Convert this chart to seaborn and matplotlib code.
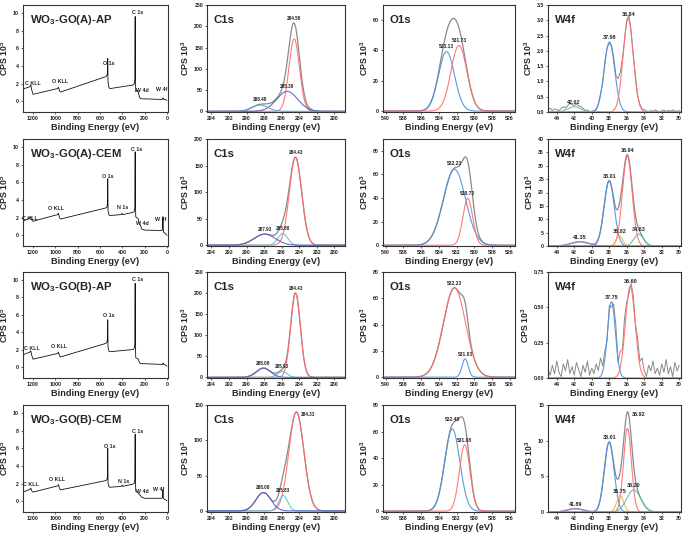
import numpy as np
import matplotlib
matplotlib.use("Agg")
import matplotlib.pyplot as plt
import seaborn as sns

# ---- survey spectra: (binding energy eV, CPS 1e5)
survey_titles = ["WO$_\\mathbf{3}$-GO(A)-AP", "WO$_\\mathbf{3}$-GO(A)-CEM",
                 "WO$_\\mathbf{3}$-GO(B)-AP", "WO$_\\mathbf{3}$-GO(B)-CEM"]

survey_a_ap = [(1290, 1.40), (1230, 1.65), (1220, 1.85), (1212, 1.30), (1200, 0.80),
               (980, 1.45), (972, 1.60), (964, 1.25), (955, 1.05), (548, 2.80),
               (538, 2.95), (533, 3.30), (531, 4.85), (528, 2.20), (520, 1.55),
               (510, 1.45), (305, 1.85), (293, 2.00), (288, 2.60), (285, 9.60),
               (283, 3.00), (280, 1.10), (270, 1.25), (258, 1.10), (246, 0.45),
               (235, 0.30), (45, 0.22), (38, 0.28), (35, 0.40), (31, 0.25),
               (10, 0.18), (0, 0.10)]
survey_a_cem = [(1290, 1.60), (1230, 1.95), (1220, 2.10), (1212, 1.75), (1200, 1.60),
                (980, 2.35), (972, 2.50), (964, 2.05), (955, 1.85), (548, 3.10),
                (538, 3.20), (533, 3.60), (531, 6.40), (528, 2.80), (520, 2.30),
                (510, 2.25), (410, 2.35), (402, 2.50), (396, 2.35), (305, 2.60),
                (293, 2.70), (288, 3.20), (285, 9.45), (283, 4.00), (280, 2.10),
                (268, 2.00), (258, 1.90), (248, 1.30), (240, 1.20), (225, 0.70),
                (200, 0.60), (45, 0.55), (40, 0.90), (36, 2.10), (33, 0.60),
                (30, 0.35), (10, 0.15), (0, 0.00)]
survey_b_ap = [(1290, 1.45), (1230, 1.75), (1220, 1.90), (1212, 1.40), (1200, 0.95),
               (980, 1.60), (972, 1.75), (964, 1.40), (955, 1.20), (548, 2.75),
               (538, 2.90), (533, 3.30), (531, 5.45), (528, 2.30), (520, 1.85),
               (510, 1.80), (305, 2.05), (293, 2.20), (288, 2.70), (285, 9.60),
               (283, 3.00), (280, 1.10), (270, 1.05), (258, 0.95), (246, 0.55),
               (235, 0.45), (45, 0.35), (38, 0.40), (35, 0.50), (31, 0.35),
               (10, 0.25), (0, 0.15)]
survey_b_cem = [(1290, 1.05), (1230, 1.35), (1220, 1.50), (1212, 1.20), (1200, 1.05),
                (980, 1.75), (972, 1.90), (964, 1.50), (955, 1.30), (548, 2.35),
                (538, 2.45), (533, 2.80), (531, 6.00), (528, 2.10), (520, 1.65),
                (510, 1.60), (410, 1.70), (402, 1.85), (396, 1.70), (305, 1.95),
                (293, 2.05), (288, 2.50), (285, 7.60), (283, 3.00), (280, 1.15),
                (268, 1.05), (258, 1.00), (248, 0.75), (240, 0.70), (225, 0.45),
                (200, 0.35), (45, 0.35), (40, 0.50), (36, 1.30), (33, 0.40),
                (30, 0.30), (10, 0.15), (0, 0.05)]
surveys = [survey_a_ap, survey_a_cem, survey_b_ap, survey_b_cem]

# ---- fitted components: centre (eV), height (CPS 1e3), sigma (eV)
c1s_centres = [[284.58, 285.38, 288.48], [284.43, 285.88, 287.93],
               [284.43, 285.93, 288.08], [284.33, 285.83, 288.08]]
c1s_heights = [[170, 47, 15], [165, 22, 21], [200, 14, 22], [140, 22, 26]]
c1s_sigmas = [[0.60, 1.20, 0.90], [0.70, 0.55, 1.20], [0.55, 0.55, 0.80], [0.85, 0.50, 0.85]]

o1s_centres = [[533.13, 531.73], [532.23, 530.73], [532.23, 531.03], [532.48, 531.08]]
o1s_heights = [[39.3, 43.3], [64.4, 39.7], [68.0, 14.0], [62.0, 50.0]]
o1s_sigmas = [[0.90, 0.90], [1.25, 0.55], [1.25, 0.35], [0.85, 0.60]]

w4f_centres = [[37.98, 35.84, 42.02], [38.01, 35.94, 36.82, 34.63, 41.35],
               [37.75, 35.60], [38.01, 35.92, 36.75, 35.20, 41.89]]
w4f_heights = [[2.29, 3.05, 0.17], [24.4, 33.7, 3.8, 4.4, 1.6],
               [0.54, 0.65], [9.8, 11.7, 2.3, 3.1, 0.47]]
w4f_sigmas = [[0.60, 0.58, 0.75], [0.58, 0.55, 0.35, 0.55, 1.00],
              [0.45, 0.55], [0.55, 0.45, 0.40, 0.80, 0.90]]

# raw-data wiggle on the noisy W4f scans, 45 -> 30 eV every 0.25 eV
w4f_noise_1 = [0.08, 0.12, 0.05, 0.10, 0.07, 0.03, 0.09, 0.13, 0.06, 0.10,
               0.15, 0.08, 0.04, 0.11, 0.06, 0.09, 0.05, 0.02, 0.04, 0.01,
               0.00, 0.02, -0.03, 0.04, 0.06, -0.05, 0.08, 0.03, -0.06, 0.05,
               0.10, -0.04, 0.07, 0.12, 0.02, -0.05, 0.06, 0.15, 0.09, 0.02,
               0.08, 0.01, 0.04, 0.02, 0.06, 0.03, 0.01, 0.05, 0.02, 0.07,
               0.03, 0.01, 0.04, 0.06, 0.02, 0.05, 0.03, 0.07, 0.04, 0.02, 0.05]
w4f_noise_3 = [0.06, 0.02, 0.09, 0.03, 0.12, 0.04, 0.01, 0.10, 0.05, 0.13,
               0.03, 0.08, 0.02, 0.11, 0.06, 0.01, 0.09, 0.04, 0.12, 0.02,
               0.07, 0.03, 0.10, 0.05, 0.13, 0.04, 0.06, -0.03, 0.05, -0.04,
               0.06, 0.08, -0.05, 0.07, 0.02, 0.10, 0.04, -0.03, 0.03, 0.05,
               0.02, 0.08, 0.03, 0.11, 0.04, 0.01, 0.09, 0.05, 0.12, 0.03,
               0.07, 0.02, 0.10, 0.04, 0.13, 0.03, 0.08, 0.01, 0.11, 0.05, 0.09]
w4f_noise = [w4f_noise_1, None, w4f_noise_3, None]

# axis ranges / ticks per row
c1s_ytop = [250, 200, 250, 150]
o1s_ytop = [70, 90, 80, 80]
o1s_ytick_top = [60, 80, 80, 80]
w4f_ytop = [3.5, 40, 0.75, 15]
w4f_ystep = [0.5, 5, 0.25, 5]

RED = "#ff6b6b"
SLATE = "#5a5ac4"
SKY = "#4aa2dc"
CYAN = "#52c6d6"
BLUE = "#4a8fe0"
ORANGE = "#f0b24a"
TEAL = "#56c0a2"
PURPLE = "#a57ac8"
GREEN = "#6cc08e"
GREY = "#8a8a8a"

c1s_colors = [[RED, SLATE, SKY], [RED, CYAN, SLATE], [RED, CYAN, SLATE], [RED, CYAN, SLATE]]
o1s_colors = [[BLUE, RED], [BLUE, RED], [RED, BLUE], [BLUE, RED]]
w4f_colors = [[BLUE, RED, GREEN], [BLUE, RED, ORANGE, TEAL, PURPLE],
              [BLUE, RED], [BLUE, RED, ORANGE, TEAL, PURPLE]]

# survey annotations: text, BE, y
survey_labels = [
    [("C KLL", 1205, 2.05), ("O KLL", 962, 2.2), ("O 1s", 518, 4.3),
     ("C 1s", 262, 10.0), ("W 4d", 220, 1.25), ("W 4f", 50, 1.3)],
    [("C KLL", 1225, 1.95), ("O KLL", 997, 3.0), ("O 1s", 529, 6.65),
     ("N 1s", 395, 3.1), ("C 1s", 270, 9.75), ("W 4d", 225, 1.4), ("W 4f", 55, 1.75)],
    [("C KLL", 1210, 2.15), ("O KLL", 965, 2.4), ("O 1s", 520, 5.9),
     ("C 1s", 262, 10.0)],
    [("C KLL", 1219, 1.96), ("O KLL", 988, 2.45), ("O 1s", 514, 6.26),
     ("N 1s", 389, 2.2), ("C 1s", 261, 7.85), ("W 4d", 222, 1.13), ("W 4f", 73, 1.32)],
]

sns.set_theme(style="ticks")
plt.rcParams["font.family"] = ["Liberation Sans", "DejaVu Sans"]
plt.rcParams["mathtext.fontset"] = "custom"
plt.rcParams["mathtext.rm"] = "Liberation Sans"
plt.rcParams["mathtext.bf"] = "Liberation Sans:bold"


def gauss(x, c, h, s):
    return h * np.exp(-0.5 * ((x - c) / s) ** 2)


def style_axes(ax, xlim, ylim, xticks, yticks, ylab, title, yfmt="{:g}"):
    ax.set_xlim(*xlim)
    ax.set_ylim(*ylim)
    ax.set_xticks(xticks)
    ax.set_yticks(yticks)
    ax.set_yticklabels([yfmt.format(t) for t in yticks])
    ax.tick_params(labelsize=3.8, length=1.6, width=0.5, pad=1.2, colors="#222222")
    for lab in ax.get_xticklabels() + ax.get_yticklabels():
        lab.set_fontweight("bold")
    for sp in ax.spines.values():
        sp.set_visible(True)
        sp.set_linewidth(0.8)
        sp.set_color("#333333")
    ax.set_xlabel("Binding Energy (eV)", fontsize=6.6, fontweight="bold", labelpad=1.5)
    ax.set_ylabel(ylab, fontsize=6.3, fontweight="bold", labelpad=2)
    ax.text(0.05, 0.86, title, transform=ax.transAxes, fontsize=8.2,
            fontweight="bold", ha="left", va="center")


def draw_fit(ax, xlim, ytop, centres, heights, sigmas, colors, noise, fs):
    x = np.linspace(xlim[0], xlim[1], 700)
    comps = [gauss(x, c, h, s) for c, h, s in zip(centres, heights, sigmas)]
    env = np.sum(comps, axis=0)
    if noise is None:
        sns.lineplot(x=x, y=env, ax=ax, color=GREY, lw=0.9, estimator=None, sort=False)
    else:
        xr = np.linspace(45, 30, len(noise))
        yr = sum(gauss(xr, c, h, s) for c, h, s in zip(centres, heights, sigmas)) + np.array(noise)
        sns.lineplot(x=xr, y=yr, ax=ax, color=GREY, lw=0.7, estimator=None, sort=False)
    for comp, col in zip(comps, colors):
        sns.lineplot(x=x, y=comp, ax=ax, color=col, lw=0.8, estimator=None, sort=False,
                     alpha=0.9)
    for c, h in zip(centres, heights):
        e = sum(gauss(c, cc, hh, ss) for cc, hh, ss in zip(centres, heights, sigmas))
        y = e if h >= 0.8 * e else h
        if y > 0.9 * ytop:
            ax.annotate(f"{c:.2f}", (c, y), xytext=(3, -2), textcoords="offset points",
                        ha="left", va="center", fontsize=fs, fontweight="bold", color="#222222")
        else:
            ax.annotate(f"{c:.2f}", (c, y), xytext=(0, 1.5), textcoords="offset points",
                        ha="center", va="bottom", fontsize=fs, fontweight="bold", color="#222222")


W, H = 685, 535
fig = plt.figure(figsize=(W / 100, H / 100), dpi=100)
col_px = [(23, 168), (207, 345), (383, 515), (548, 681)]
row_px = [(5, 112), (139, 246), (272, 378), (405, 512)]


def make_ax(r, c):
    (x0, x1), (y0, y1) = col_px[c], row_px[r]
    return fig.add_axes([x0 / W, 1 - y1 / H, (x1 - x0) / W, (y1 - y0) / H])


for r in range(4):
    # survey
    ax = make_ax(r, 0)
    be = [p[0] for p in surveys[r]]
    cps = [p[1] for p in surveys[r]]
    sns.lineplot(x=be, y=cps, ax=ax, color="#111111", lw=0.6, estimator=None, sort=False)
    for txt, bx, by in survey_labels[r]:
        ax.text(bx, by, txt, fontsize=3.8, fontweight="bold", ha="center", va="center",
                color="#222222")
    style_axes(ax, (1290, -9), (-1.2, 10.9), range(0, 1201, 200), range(0, 11, 2),
               "CPS 10$^\\mathbf{5}$", survey_titles[r])

    # C1s
    ax = make_ax(r, 1)
    xl = (294.5, 278.8)
    draw_fit(ax, xl, c1s_ytop[r], c1s_centres[r], c1s_heights[r], c1s_sigmas[r],
             c1s_colors[r], None, 3.3)
    style_axes(ax, xl, (-1.5, c1s_ytop[r]), range(294, 279, -2),
               range(0, c1s_ytop[r] + 1, 50), "CPS 10$^\\mathbf{3}$", "C1s")

    # O1s
    ax = make_ax(r, 2)
    xl = (540.3, 525.4)
    draw_fit(ax, xl, o1s_ytop[r], o1s_centres[r], o1s_heights[r], o1s_sigmas[r],
             o1s_colors[r], None, 3.5)
    style_axes(ax, xl, (-0.6, o1s_ytop[r]), range(540, 525, -2),
               range(0, o1s_ytick_top[r] + 1, 20), "CPS 10$^\\mathbf{3}$", "O1s")

    # W4f
    ax = make_ax(r, 3)
    xl = (45.0, 29.8)
    draw_fit(ax, xl, w4f_ytop[r], w4f_centres[r], w4f_heights[r], w4f_sigmas[r],
             w4f_colors[r], w4f_noise[r], 3.9)
    step = w4f_ystep[r]
    yt = np.round(np.arange(0, w4f_ytop[r] + step / 2, step), 3)
    fmt = "{:.2f}" if step == 0.25 else ("{:.1f}" if step == 0.5 else "{:g}")
    style_axes(ax, xl, (0, w4f_ytop[r]), range(44, 29, -2), yt,
               "CPS 10$^\\mathbf{3}$", "W4f", fmt)

fig.savefig("out.png", dpi=100, facecolor="white")
